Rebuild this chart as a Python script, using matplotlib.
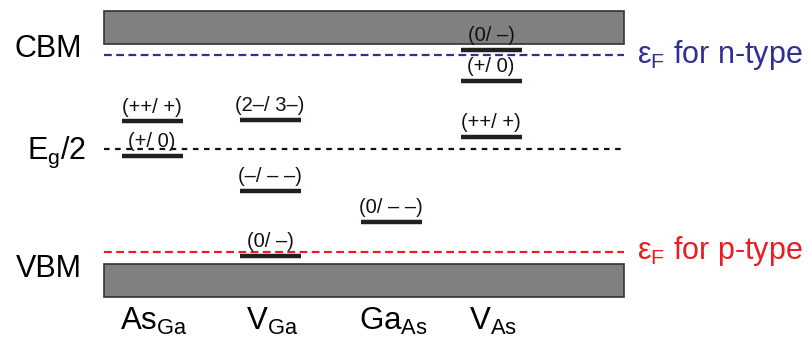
import matplotlib
matplotlib.use('Agg')
import matplotlib.pyplot as plt
from matplotlib.patches import Rectangle

plt.rcParams['font.family'] = ['Liberation Sans', 'DejaVu Sans']
plt.rcParams['mathtext.fontset'] = 'custom'
plt.rcParams['mathtext.rm'] = 'Liberation Sans'
plt.rcParams['mathtext.it'] = 'Liberation Sans:italic'

# energies in eV above the VBM
gap = 1.42
band_depth = 0.213
midgap = 0.74
ef_n = 1.35
ef_p = 0.075

defects = [r'As$_{\mathrm{Ga}}$', r'V$_{\mathrm{Ga}}$', r'Ga$_{\mathrm{As}}$', r'V$_{\mathrm{As}}$']
level_defect = [0, 0, 1, 1, 1, 2, 3, 3, 3]
level_energy = [0.92, 0.70, 0.93, 0.47, 0.05, 0.27, 1.38, 1.18, 0.82]
level_label = ['(++/ +)', '(+/ 0)', '(2–/ 3–)', '(–/ – –)', '(0/ –)',
               '(0/ – –)', '(0/ –)', '(+/ 0)', '(++/ +)']

# layout (pixel-like x units)
col_x = [152, 270, 391, 491]
bar_w = 61
x0, x1 = 104, 624

fig = plt.figure(figsize=(8.08, 3.41), dpi=100)
ax = fig.add_axes([0, 0, 1, 1])
ax.set_xlim(0, 808)
ax.set_ylim(-0.497, 1.704)
ax.axis('off')

ax.add_patch(Rectangle((x0, gap), x1 - x0, band_depth, facecolor='#808080',
                       edgecolor='#333333', lw=1.2))
ax.add_patch(Rectangle((x0, -band_depth), x1 - x0, band_depth, facecolor='#808080',
                       edgecolor='#333333', lw=1.2))

ax.plot([x0, x1], [ef_n, ef_n], color='#2e3192', lw=1.6, dashes=(3.5, 2))
ax.plot([x0, x1], [midgap, midgap], color='#111111', lw=1.6, dashes=(2.5, 2.5))
ax.plot([x0, x1], [ef_p, ef_p], color='#ed1c24', lw=1.6, dashes=(3.5, 2))

for d, e, lab in zip(level_defect, level_energy, level_label):
    cx = col_x[d]
    ax.plot([cx - bar_w / 2, cx + bar_w / 2], [e, e], color='#231f20', lw=3.2,
            solid_capstyle='butt')
    ax.annotate(lab, (cx, e), xytext=(0, 3.5), textcoords='offset points',
                ha='center', va='bottom', fontsize=14.5, color='#111111')

for cx, name in zip(col_x, defects):
    ax.text(cx + 2, -0.37, name, ha='center', va='center', fontsize=22.5)

ax.text(82, gap - 0.03, 'CBM', ha='right', va='center', fontsize=22)
ax.text(86, midgap - 0.02, r'E$_{\mathrm{g}}$/2', ha='right', va='center', fontsize=22)
ax.text(82, -0.03, 'VBM', ha='right', va='center', fontsize=22)

ax.text(637, ef_n, r'ε$_{\mathrm{F}}$ for n-type', ha='left', va='center',
        fontsize=22, color='#2e3192')
ax.text(637, ef_p + 0.01, r'ε$_{\mathrm{F}}$ for p-type', ha='left', va='center',
        fontsize=22, color='#ed1c24')

fig.savefig('out.png', dpi=100)
